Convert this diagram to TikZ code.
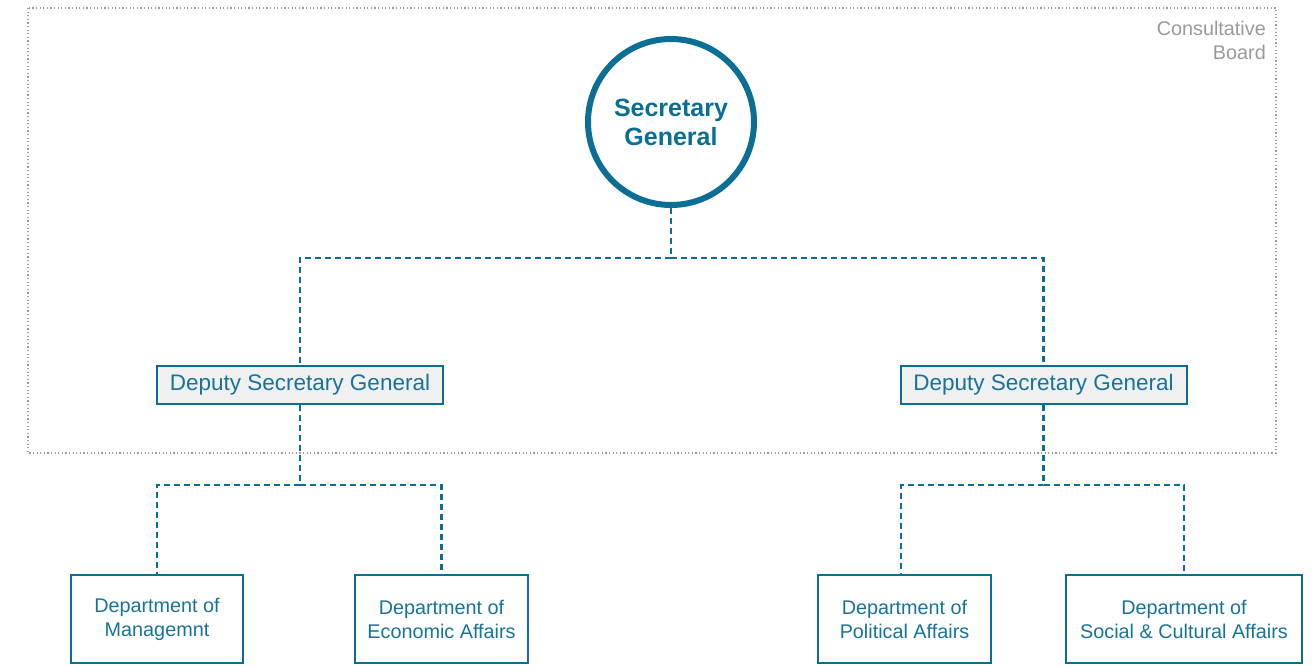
\documentclass[tikz,border=0pt]{standalone}
\usepackage{fontspec}
\setmainfont{Liberation Sans}
\usepackage{tikz}
\usetikzlibrary{positioning}

\definecolor{orgblue}{HTML}{0B6E94}
\definecolor{orgtext}{HTML}{17739A}
\definecolor{boardgray}{HTML}{9A9A9A}
\definecolor{deputyfill}{HTML}{F0F0F0}

\tikzset{
  chief/.style={circle,draw=orgblue,line width=6pt,minimum size=166pt,inner sep=0pt,
    text=orgblue,align=center,font=\fontsize{25}{29}\selectfont\bfseries},
  deputy/.style={rectangle,draw=orgblue,line width=2pt,fill=deputyfill,minimum width=286pt,
    minimum height=38pt,inner sep=0pt,text=orgtext,font=\fontsize{22.5}{26}\selectfont},
  dept/.style={rectangle,draw=orgblue,line width=2.2pt,minimum height=88pt,inner sep=0pt,
    text=orgtext,align=center,font=\fontsize{19.8}{24}\selectfont},
  link/.style={draw=orgblue,line width=2.4pt,dash pattern=on 6pt off 4pt},
  board/.style={draw=boardgray,line width=1.2pt,dash pattern=on 1.2pt off 2.4pt}
}

\begin{document}
\begin{tikzpicture}[x=1pt,y=-1pt]
\useasboundingbox (0,0) rectangle (1313,666);

% consultative board frame
\draw[board] (28,8) rectangle (1276,453);
\node[anchor=north east,align=right,inner sep=0pt,text=boardgray,
  font=\fontsize{19.8}{24}\selectfont] (boardlbl) at (1266,21) {Consultative\\Board};

% nodes
\node[chief] (sg) at (671,122) {Secretary\\General};
\node[deputy] (dsgL) at (300,385) {Deputy Secretary General};
\node[deputy] (dsgR) at (1043.5,385) {Deputy Secretary General};
\node[dept,minimum width=172pt] (mgmt) at (157,619) {Department of\\Managemnt};
\node[dept,minimum width=173pt] (econ) at (441.5,619) {Department of\\Economic Affairs};
\node[dept,minimum width=173pt] (pol) at (904.5,619) {Department of\\Political Affairs};
\node[dept,minimum width=236pt] (soc) at (1184,619) {Department of\\Social \& Cultural Affairs};

% junctions
\coordinate (jtop) at (671,258);
\coordinate (jleft) at (300,485);
\coordinate (jright) at (1043.5,485);

% connectors
\draw[link] (sg.south) -- (jtop) -| (dsgL.north);
\draw[link] (jtop) -| (dsgR.north);
\draw[link] (dsgL.south) -- (jleft) -| (mgmt.north);
\draw[link] (jleft) -| (econ.north);
\draw[link] (dsgR.south) -- (jright) -| ([xshift=-3.5pt]pol.north);
\draw[link] (jright) -| (soc.north);
\end{tikzpicture}
\end{document}
